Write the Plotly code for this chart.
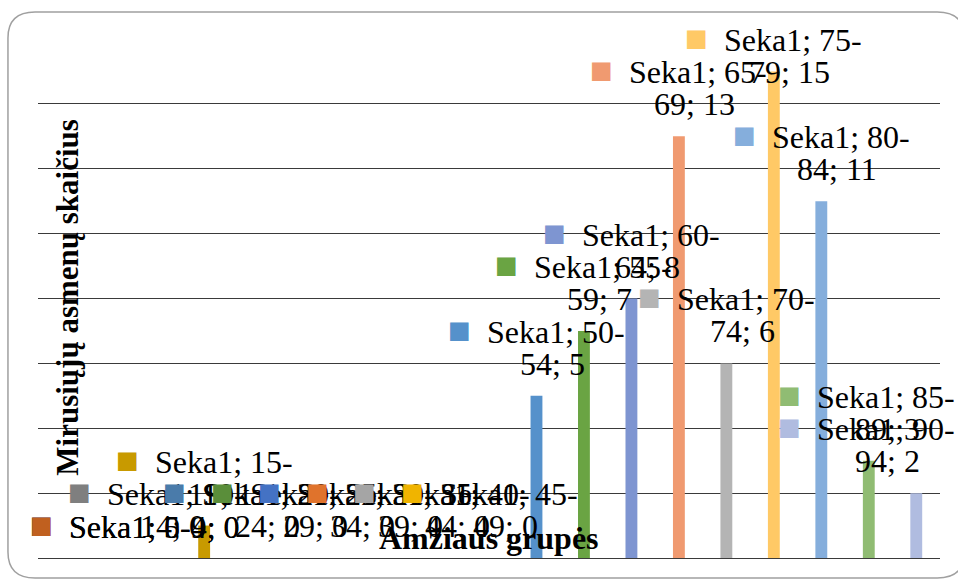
import plotly.graph_objects as go

SERIES_NAME = "Seka1"
age_groups = [
    "0-4", "5-9", "10-14", "15-19", "20-24", "25-29", "30-34", "35-39", "40-44",
    "45-49", "50-54", "55-59", "60-64", "65-69", "70-74", "75-79", "80-84",
    "85-89", "90-94",
]
deaths = [0, 0, 0, 1, 0, 0, 0, 0, 0, 0, 5, 7, 8, 13, 6, 15, 11, 3, 2]
bar_colors = [
    "#2F5597", "#C0601F", "#7F7F7F", "#C89A00", "#4A7BAA", "#5A8E3A",
    "#4472C4", "#E0732C", "#A5A5A5", "#F0B400", "#5591CB", "#6AA443",
    "#7E95D1", "#F09A70", "#B4B4B4", "#FFC966", "#85AEDC", "#90BC73",
    "#B0BCE0",
]
Y_MAX = 16

SERIF = "Liberation Serif"

fig = go.Figure(
    go.Bar(
        x=age_groups,
        y=deaths,
        marker=dict(color=bar_colors, line=dict(width=0)),
        hoverinfo="x+y",
    )
)

# data labels in Excel style: colour key + "series; category; value"
n = len(age_groups)
annotations = []
for i, (cat, val, col) in enumerate(zip(age_groups, deaths, bar_colors)):
    key = f"<span style='color:{col};font-size:38px'>■</span>\u00a0\u00a0"
    label_y = min(val, Y_MAX - 2)
    base = dict(
        xref="x", yref="y", x=i, y=label_y, xanchor="center", yanchor="middle",
        showarrow=False, font=dict(family=SERIF, size=32, color="black"),
    )
    if len(cat) <= 3:
        a = dict(base, text=key + f"{SERIES_NAME}; {cat}; {val}", yshift=33)
        if i <= 1:
            # label pushed inside the chart area on the left
            a.update(xref="paper", x=-0.011, xanchor="left")
        annotations.append(a)
    else:
        head, tail = cat.split("-")
        first = dict(base, text=key + f"{SERIES_NAME}; {head}-", yshift=66)
        second = dict(base, text=f"{tail}; {val}", yshift=32, xshift=16)
        if i >= n - 2:
            # label pushed inside the chart area on the right
            first.update(xref="paper", x=1.019, xanchor="right")
            second.update(xref="paper", x=1.019, xshift=-70)
        annotations.append(first)
        annotations.append(second)

annotations.append(
    dict(
        xref="paper", yref="paper", x=0.033, y=0.503, textangle=-90,
        xanchor="center", yanchor="middle",
        text="<b>Mirusiųjų asmenų skaičius</b>", showarrow=False,
        font=dict(family=SERIF, size=31, color="black"),
    )
)
annotations.append(
    dict(
        xref="paper", yref="paper", x=0.5, y=0.038,
        xanchor="center", yanchor="middle",
        text="<b>Amžiaus grupės</b>", showarrow=False,
        font=dict(family=SERIF, size=32, color="black"),
    )
)

# rounded chart border (right side runs past the window edge)
x0, x1, y0, y1 = -0.0333, 1.027, -0.0385, 1.052
rx, ry = 0.03, 0.05
border_path = (
    f"M {x0 + rx} {y1} L {x1 - rx} {y1} Q {x1} {y1} {x1} {y1 - ry} "
    f"L {x1} {y0 + ry} Q {x1} {y0} {x1 - rx} {y0} "
    f"L {x0 + rx} {y0} Q {x0} {y0} {x0} {y0 + ry} "
    f"L {x0} {y1 - ry} Q {x0} {y1} {x0 + rx} {y1} Z"
)

fig.update_xaxes(
    type="category", range=[-0.5, n - 0.5],
    showticklabels=False, showgrid=False, zeroline=False, showline=False, ticks="",
)
fig.update_yaxes(
    range=[0, Y_MAX], dtick=2, showticklabels=False, ticks="",
    showgrid=True, gridcolor="#3A3A3A", gridwidth=1.3,
    zeroline=True, zerolinecolor="#3A3A3A", zerolinewidth=1.3,
)
fig.update_layout(
    width=958,
    height=581,
    margin=dict(l=38, r=18, t=39, b=23),
    plot_bgcolor="white",
    paper_bgcolor="white",
    bargap=0.75,
    showlegend=False,
    annotations=annotations,
    shapes=[
        dict(
            type="path", path=border_path, xref="paper", yref="paper",
            line=dict(color="#A0A0A0", width=1.5), layer="below",
        )
    ],
)

# drop the default body margin so the figure fills the window exactly
fig.write_html(
    "out.html",
    config={"displayModeBar": False},
    post_script="document.body.style.margin='0';document.body.style.overflow='hidden';",
)
